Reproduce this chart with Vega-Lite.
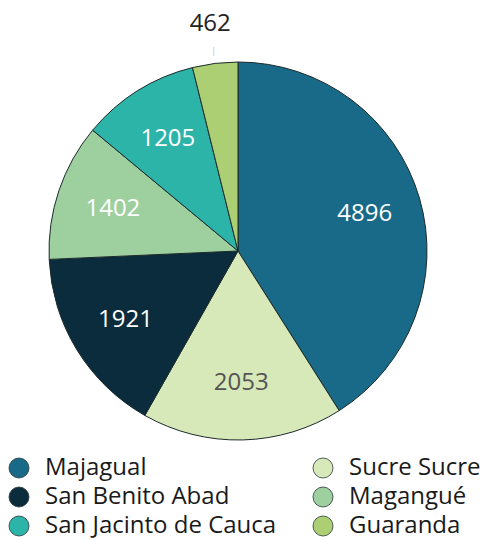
{
  "$schema": "https://vega.github.io/schema/vega-lite/v6.json",
  "width": 476,
  "height": 502,
  "padding": {"left": 0, "top": 0, "right": 10, "bottom": 38},
  "autosize": "none",
  "background": "white",
  "data": {
    "values": [
      {"name": "Majagual", "value": 4896, "order": 1},
      {"name": "Sucre Sucre", "value": 2053, "order": 2},
      {"name": "San Benito Abad", "value": 1921, "order": 3},
      {"name": "Magangué", "value": 1402, "order": 4},
      {"name": "San Jacinto de Cauca", "value": 1205, "order": 5},
      {"name": "Guaranda", "value": 462, "order": 6}
    ]
  },
  "encoding": {
    "theta": {"field": "value", "type": "quantitative", "stack": true},
    "order": {"field": "order", "type": "quantitative"}
  },
  "layer": [
    {
      "mark": {"type": "arc", "radius": 189, "stroke": "#1c2b2b", "strokeWidth": 1},
      "encoding": {
        "color": {
          "field": "name",
          "type": "nominal",
          "scale": {
            "domain": ["Majagual", "San Benito Abad", "San Jacinto de Cauca", "Sucre Sucre", "Magangué", "Guaranda"],
            "range": ["#186a88", "#0b2c3d", "#2db4a9", "#d7e8b9", "#9ecf9f", "#abcf72"]
          },
          "legend": {
            "title": null,
            "orient": "none",
            "legendX": 7,
            "legendY": 456,
            "columns": 2,
            "direction": "vertical",
            "symbolType": "circle",
            "symbolSize": 400,
            "symbolStrokeColor": "#2a3a3a",
            "symbolStrokeWidth": 0.8,
            "labelFont": "Open Sans",
            "labelFontSize": 24,
            "labelColor": "#1a1a1a",
            "labelOffset": 14,
            "labelLimit": 400,
            "rowPadding": 5,
            "columnPadding": 34
          }
        }
      }
    },
    {
      "mark": {"type": "text", "radius": 132, "font": "Open Sans", "fontSize": 24, "baseline": "middle"},
      "encoding": {
        "text": {"condition": {"test": "datum.value < 1000", "value": ""}, "field": "value", "type": "quantitative"},
        "color": {"condition": {"test": "datum.name === 'Sucre Sucre'", "value": "#555555"}, "value": "#ffffff"}
      }
    },
    {
      "mark": {"type": "text", "radius": 229, "font": "Open Sans", "fontSize": 24, "baseline": "middle", "color": "#222222"},
      "encoding": {
        "text": {"condition": {"test": "datum.value >= 1000", "value": ""}, "field": "value", "type": "quantitative"}
      }
    },
    {
      "mark": {"type": "text", "radius": 201, "font": "Open Sans", "fontSize": 9, "baseline": "middle", "color": "#bbbbbb"},
      "encoding": {
        "text": {"condition": {"test": "datum.value >= 1000", "value": ""}, "value": "|"}
      }
    }
  ]
}
